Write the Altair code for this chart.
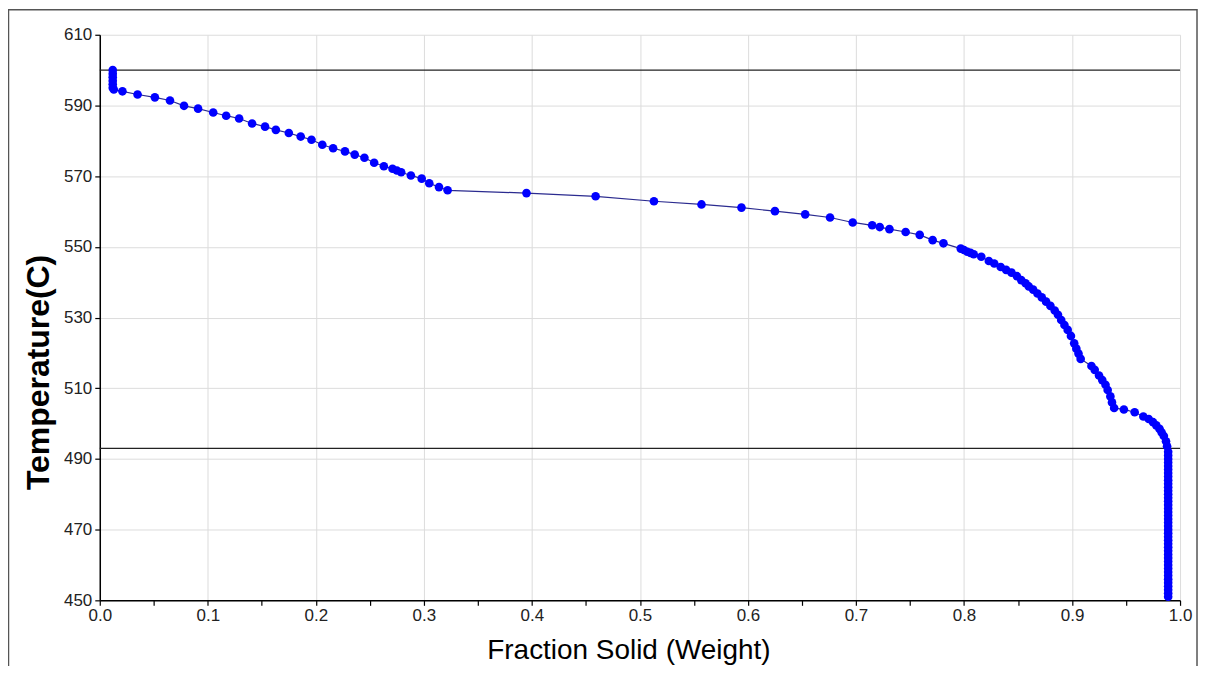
import altair as alt
import pandas as pd

# Fraction solid (weight) and temperature (C)
frac = [0.012, 0.012, 0.012, 0.012, 0.012, 0.012, 0.013,
        0.021, 0.035, 0.051, 0.065, 0.078, 0.091, 0.105, 0.117, 0.129, 0.141,
        0.153, 0.163, 0.175, 0.186, 0.196, 0.206, 0.216, 0.227, 0.236, 0.245,
        0.254, 0.263, 0.271, 0.275, 0.279, 0.288, 0.298, 0.305, 0.314, 0.322,
        0.395, 0.459, 0.513, 0.557, 0.594, 0.625, 0.653, 0.676, 0.697, 0.715,
        0.722, 0.731, 0.746, 0.759, 0.771, 0.781,
        0.797, 0.800, 0.803, 0.806, 0.809, 0.816, 0.823, 0.828, 0.834, 0.839,
        0.844, 0.849, 0.853, 0.857, 0.860, 0.864, 0.868, 0.872, 0.876, 0.880,
        0.884, 0.887, 0.890, 0.893, 0.896, 0.899, 0.902, 0.904, 0.906, 0.908,
        0.918, 0.921, 0.925, 0.928, 0.931, 0.933, 0.9355, 0.937, 0.939,
        0.948, 0.958, 0.966, 0.971, 0.975, 0.978, 0.981, 0.983, 0.985, 0.987,
        0.988, 0.989,
        0.989, 0.989, 0.989, 0.989, 0.989, 0.989, 0.989, 0.989, 0.989, 0.989,
        0.989, 0.989, 0.989, 0.989, 0.989, 0.989, 0.989, 0.989, 0.989, 0.989,
        0.989, 0.989, 0.989, 0.989, 0.989, 0.989, 0.989, 0.989, 0.989, 0.989,
        0.989, 0.989, 0.989, 0.989, 0.989, 0.989, 0.989, 0.989, 0.989, 0.989,
        0.989]
temp = [600.0, 599.0, 598.0, 597.0, 596.0, 595.0, 594.5,
        594.0, 593.1, 592.3, 591.4, 589.9, 589.1, 588.0, 587.1, 586.3, 584.9,
        584.0, 583.1, 582.2, 581.2, 580.3, 578.9, 577.9, 577.0, 576.1, 575.2,
        573.8, 572.8, 572.1, 571.6, 571.1, 570.2, 569.3, 568.0, 566.9, 566.0,
        565.2, 564.3, 562.9, 562.0, 561.1, 560.1, 559.2, 558.3, 556.9, 556.1,
        555.6, 555.0, 554.2, 553.4, 551.9, 551.0,
        549.5, 549.1, 548.6, 548.3, 547.9, 547.2, 546.0, 545.3, 544.3, 543.5,
        542.7, 541.7, 540.6, 539.7, 538.8, 537.9, 536.8, 535.7, 534.5, 533.3,
        532.0, 530.8, 529.3, 527.9, 526.5, 524.8, 522.7, 521.2, 519.8, 518.3,
        516.3, 515.2, 513.6, 512.3, 511.0, 509.5, 507.7, 506.0, 504.4,
        504.0, 503.2, 502.0, 501.3, 500.4, 499.5, 498.5, 497.5, 496.5, 495.0,
        493.6, 492.0,
        491.0, 490.0, 489.0, 488.0, 487.0, 486.0, 485.0, 484.0, 483.0, 482.0,
        481.0, 480.0, 479.0, 478.0, 477.0, 476.0, 475.0, 474.0, 473.0, 472.0,
        471.0, 470.0, 469.0, 468.0, 467.0, 466.0, 465.0, 464.0, 463.0, 462.0,
        461.0, 460.0, 459.0, 458.0, 457.0, 456.0, 455.0, 454.0, 453.0, 452.0,
        451.0]

ref_temps = [600, 493]

x_ticks = [0.0, 0.05, 0.1, 0.15, 0.2, 0.25, 0.3, 0.35, 0.4, 0.45, 0.5,
           0.55, 0.6, 0.65, 0.7, 0.75, 0.8, 0.85, 0.9, 0.95, 1.0]
y_ticks = [450, 460, 470, 480, 490, 500, 510, 520, 530, 540, 550,
           560, 570, 580, 590, 600, 610]

df = pd.DataFrame({"frac": frac, "temp": temp, "idx": list(range(len(frac)))})
ref_df = pd.DataFrame({"temp": ref_temps})

FONT = "Liberation Sans"
x_minor = "abs(datum.value*10 - round(datum.value*10)) > 0.001"
y_minor = "datum.value % 20 === 0"

x_enc = alt.X(
    "frac:Q",
    scale=alt.Scale(domain=[0, 1], nice=False),
    axis=alt.Axis(
        title="Fraction Solid (Weight)",
        values=x_ticks,
        labelExpr=f"({x_minor}) ? '' : format(datum.value, '.1f')",
        gridOpacity={"condition": {"test": x_minor, "value": 0}, "value": 1},
        gridColor="#dcdcdc",
        domainColor="#000000",
        domainWidth=1.5,
        tickColor="#000000",
        tickWidth=1.2,
        tickSize=5,
        labelFont=FONT,
        labelFontSize=17,
        labelColor="#222222",
        labelPadding=2,
        titleFont=FONT,
        titleFontSize=28,
        titleFontWeight="normal",
        titleColor="#000000",
        titleX=530,
        titleY=58,
        titleBaseline="alphabetic",
        labelFlush=False,
    ),
)

y_enc = alt.Y(
    "temp:Q",
    scale=alt.Scale(domain=[450, 610], nice=False, zero=False),
    axis=alt.Axis(
        title="Temperature(C)",
        values=y_ticks,
        labelExpr=f"({y_minor}) ? '' : format(datum.value, 'd')",
        gridOpacity={"condition": {"test": y_minor, "value": 0}, "value": 1},
        gridColor="#dcdcdc",
        domainColor="#000000",
        domainWidth=1.5,
        tickColor="#000000",
        tickWidth=1.2,
        tickSize=5,
        labelFont=FONT,
        labelFontSize=17,
        labelColor="#222222",
        labelPadding=3,
        titleFont=FONT,
        titleFontSize=32,
        titleFontWeight="bold",
        titleColor="#000000",
        titleX=-61,
        titleY=338,
        titleBaseline="middle",
        titleAngle=270,
        labelFlush=False,
    ),
)

frame = alt.Chart(alt.Data(values=[{"a": 1}])).mark_rect(
    fill="transparent", stroke="#555555", strokeWidth=1.5, clip=False
).encode(
    x=alt.value(-91.5), x2=alt.value(1100), y=alt.value(-25), y2=alt.value(700)
)

rules = alt.Chart(ref_df).mark_rule(color="#222222", strokeWidth=1.3).encode(
    y=alt.Y("temp:Q", scale=alt.Scale(domain=[450, 610], nice=False, zero=False))
)

line = alt.Chart(df).mark_line(color="#2b2b8f", strokeWidth=1.2).encode(
    x=x_enc, y=y_enc, order="idx:Q"
)

points = alt.Chart(df).mark_point(
    filled=True, shape="circle", size=75, color="#0000ff", opacity=1
).encode(x="frac:Q", y="temp:Q")

chart = alt.layer(rules, line, points, frame).properties(
    width=1083,
    height=567,
    autosize="none",
    padding={"left": 92, "top": 26, "right": 20, "bottom": 65},
).configure_view(stroke="transparent")

chart.save("out.html", embed_options={"renderer": "svg", "actions": False})
